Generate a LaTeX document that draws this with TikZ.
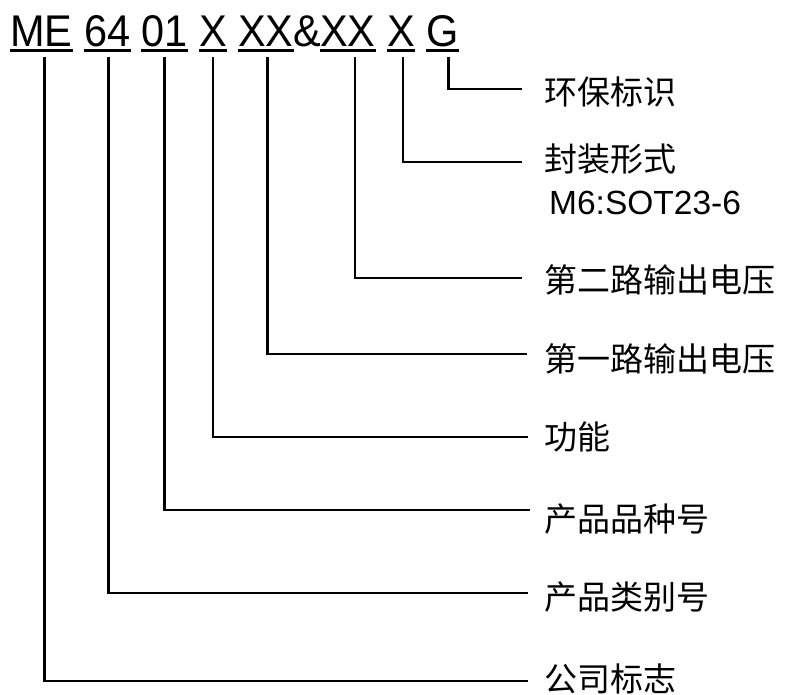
\documentclass[tikz,border=0pt]{standalone}
\usepackage{fontspec}
\setmainfont{Liberation Sans}
\newfontfamily\cjk{Noto Sans CJK SC}
\begin{document}
\begin{tikzpicture}[x=1pt,y=-1pt,
  code/.style={anchor=base west, inner sep=0pt, font=\fontsize{41.5}{48}\selectfont},
  lab/.style={anchor=west, inner sep=0pt, font=\fontsize{33}{40}\selectfont\cjk},
  conn/.style={line width=2.6pt},
  uline/.style={line width=3pt}]
\fill[white] (0,0) rectangle (786,695);
\useasboundingbox (0,0) rectangle (786,695);
% code segments
\node[code] (me)  at (10,47)  {\scalebox{1}[1.07]{ME}};
\node[code] (p64) at (84,47)  {\scalebox{1}[1.07]{64}};
\node[code] (p01) at (141,47) {\scalebox{1}[1.07]{01}};
\node[code] (fx)  at (199,47) {\scalebox{1}[1.07]{X}};
\node[code] (v1)  at (238,47) {\scalebox{1}[1.07]{XX}};
\node[code] (amp) at (v1.base east) {\scalebox{1}[1.07]{\&}};
\node[code] (v2)  at (320,47) {\scalebox{1}[1.07]{XX}};
\node[code] (pk)  at (387,47) {\scalebox{1}[1.07]{X}};
\node[code] (g)   at (426,47) {\scalebox{1}[1.07]{G}};
\foreach \n in {me,p64,p01,fx,v1,v2,pk,g}
  \draw[uline] ([yshift=-3.5pt]\n.base west) -- ([yshift=-3.5pt]\n.base east);
% labels
\node[lab] (lg) at (544,92) {环保标识};
\node[lab] (lp) at (544,159) {封装形式};
\node[lab,font=\fontsize{33.5}{40}\selectfont] (lm) at (549,203) {M6:SOT23-6};
\node[lab] (l2) at (544,280) {第二路输出电压};
\node[lab] (l1) at (544,359) {第一路输出电压};
\node[lab] (lf) at (544,437) {功能};
\node[lab] (lv) at (544,519) {产品品种号};
\node[lab] (lc) at (544,597) {产品类别号};
\node[lab] (lco) at (544,679) {公司标志};
% connectors
\draw[conn] ([xshift=6pt,yshift=-10pt]g.base) |- ([xshift=-22pt,yshift=3pt]lg.west);
\draw[conn] ([xshift=2pt,yshift=-10pt]pk.base) |- ([xshift=-22pt,yshift=-3pt]lp.west);
\draw[conn] ([xshift=7pt,yshift=-10pt]v2.base) |- ([xshift=-22pt,yshift=2pt]l2.west);
\draw[conn] ([xshift=1.5pt,yshift=-10pt]v1.base) |- ([xshift=-17pt,yshift=5pt]l1.west);
\draw[conn] ([yshift=-10pt]fx.base) |- ([xshift=-16pt]lf.west);
\draw[conn] ([yshift=-10pt]p01.base) |- ([xshift=-14pt,yshift=9pt]lv.west);
\draw[conn] ([xshift=1pt,yshift=-10pt]p64.base) |- ([xshift=-16pt,yshift=4pt]lc.west);
\draw[conn] ([xshift=3pt,yshift=-10pt]me.base) |- ([xshift=-16pt,yshift=-2pt]lco.west);
\end{tikzpicture}
\end{document}
